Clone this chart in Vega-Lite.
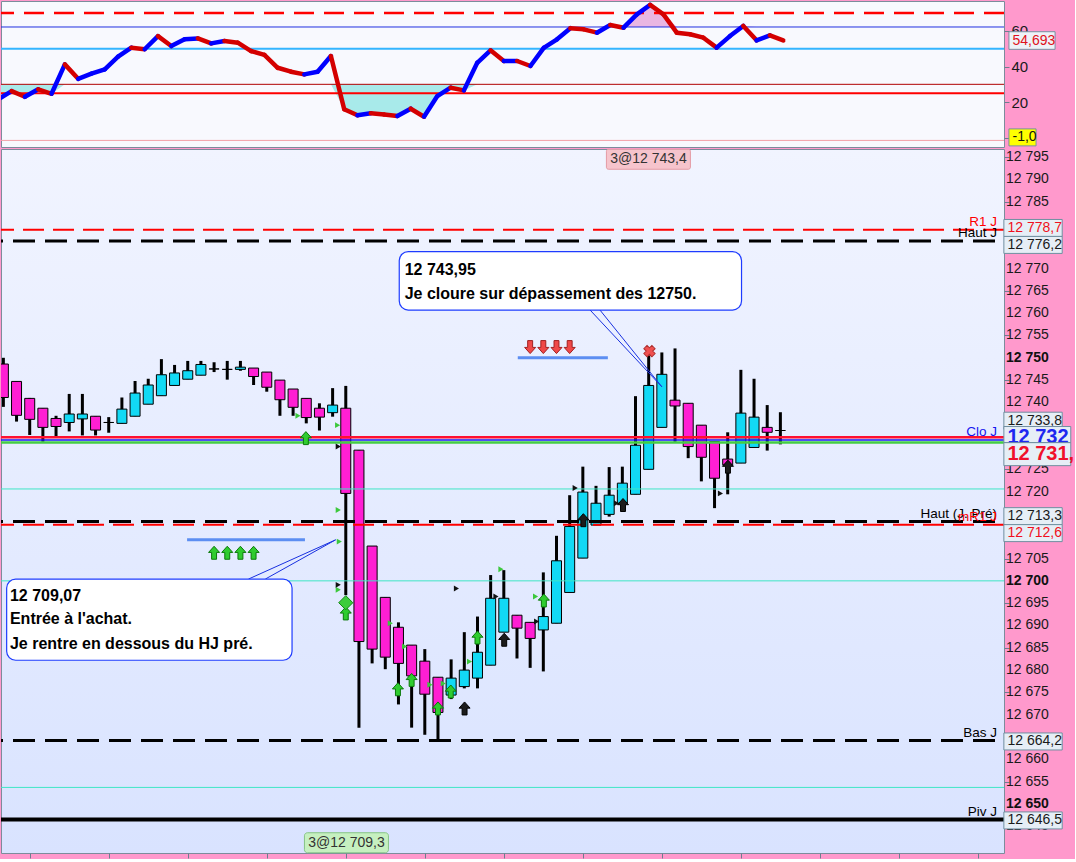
{
  "$schema": "https://vega.github.io/schema/vega-lite/v6.json",
  "background": "#FF99CC",
  "padding": 0,
  "spacing": 0,
  "config": {
    "view": {"stroke": "#7C8C9C", "strokeWidth": 1},
    "font": "Liberation Sans",
    "axis": {"domainColor": "#6E7E8E", "tickColor": "#6E7E8E", "labelColor": "#1A1A1A", "labelFont": "Liberation Sans", "labelFontSize": 14, "grid": false, "title": null, "tickSize": 5, "labelPadding": 2}
  },
  "datasets": {
    "candles": [
      {"i":0,"o":12748.6,"h":12750.0,"l":12739.0,"c":12741.1},
      {"i":1,"o":12744.7,"h":12744.7,"l":12735.7,"c":12737.1},
      {"i":2,"o":12740.9,"h":12741.0,"l":12732.7,"c":12736.2},
      {"i":3,"o":12738.7,"h":12738.7,"l":12731.2,"c":12734.4},
      {"i":4,"o":12736.4,"h":12737.0,"l":12732.3,"c":12734.6},
      {"i":5,"o":12735.5,"h":12741.9,"l":12733.5,"c":12737.4},
      {"i":6,"o":12736.3,"h":12741.9,"l":12732.6,"c":12737.4},
      {"i":7,"o":12736.9,"h":12736.9,"l":12732.6,"c":12733.8},
      {"i":8,"o":12735.5,"h":12736.7,"l":12733.2,"c":12735.5},
      {"i":9,"o":12735.3,"h":12741.1,"l":12735.3,"c":12738.5},
      {"i":10,"o":12736.9,"h":12744.8,"l":12736.9,"c":12742.1},
      {"i":11,"o":12739.6,"h":12745.3,"l":12739.6,"c":12743.9},
      {"i":12,"o":12741.5,"h":12749.7,"l":12741.5,"c":12746.2},
      {"i":13,"o":12743.8,"h":12748.4,"l":12743.8,"c":12746.6},
      {"i":14,"o":12745.2,"h":12749.3,"l":12745.2,"c":12747.1},
      {"i":15,"o":12746.1,"h":12749.3,"l":12746.1,"c":12748.5},
      {"i":16,"o":12747.5,"h":12749.0,"l":12746.8,"c":12747.5},
      {"i":17,"o":12747.4,"h":12749.3,"l":12745.1,"c":12747.4},
      {"i":18,"o":12747.4,"h":12749.3,"l":12747.1,"c":12747.9},
      {"i":19,"o":12747.7,"h":12747.7,"l":12743.9,"c":12745.8},
      {"i":20,"o":12746.8,"h":12746.8,"l":12742.4,"c":12743.4},
      {"i":21,"o":12745.0,"h":12745.0,"l":12737.0,"c":12740.6},
      {"i":22,"o":12743.0,"h":12743.0,"l":12737.0,"c":12738.9},
      {"i":23,"o":12740.9,"h":12740.9,"l":12735.3,"c":12736.6},
      {"i":24,"o":12738.7,"h":12739.8,"l":12733.7,"c":12736.7},
      {"i":25,"o":12737.7,"h":12743.2,"l":12736.8,"c":12739.4},
      {"i":26,"o":12738.7,"h":12743.7,"l":12696.8,"c":12719.6},
      {"i":27,"o":12729.3,"h":12729.3,"l":12667.1,"c":12686.4},
      {"i":28,"o":12707.8,"h":12707.8,"l":12681.5,"c":12684.7},
      {"i":29,"o":12696.3,"h":12696.3,"l":12680.2,"c":12682.9},
      {"i":30,"o":12689.6,"h":12690.7,"l":12672.3,"c":12681.5},
      {"i":31,"o":12685.6,"h":12685.6,"l":12667.1,"c":12678.7},
      {"i":32,"o":12682.0,"h":12684.7,"l":12665.5,"c":12674.6},
      {"i":33,"o":12678.4,"h":12678.4,"l":12664.2,"c":12670.5},
      {"i":34,"o":12674.4,"h":12682.4,"l":12673.5,"c":12678.2},
      {"i":35,"o":12676.3,"h":12688.5,"l":12675.9,"c":12680.0},
      {"i":36,"o":12678.2,"h":12692.0,"l":12675.9,"c":12684.0},
      {"i":37,"o":12681.1,"h":12701.3,"l":12681.1,"c":12696.1},
      {"i":38,"o":12688.5,"h":12702.4,"l":12688.5,"c":12696.1},
      {"i":39,"o":12692.3,"h":12692.3,"l":12682.6,"c":12689.4},
      {"i":40,"o":12690.7,"h":12690.7,"l":12680.5,"c":12687.1},
      {"i":41,"o":12689.0,"h":12701.9,"l":12679.7,"c":12692.0},
      {"i":42,"o":12690.5,"h":12710.1,"l":12690.5,"c":12704.5},
      {"i":43,"o":12697.4,"h":12719.2,"l":12697.4,"c":12712.2},
      {"i":44,"o":12705.1,"h":12725.6,"l":12705.1,"c":12719.9},
      {"i":45,"o":12712.5,"h":12721.3,"l":12712.5,"c":12717.4},
      {"i":46,"o":12714.9,"h":12725.5,"l":12714.4,"c":12719.2},
      {"i":47,"o":12717.4,"h":12725.6,"l":12715.5,"c":12721.9},
      {"i":48,"o":12719.4,"h":12741.4,"l":12719.4,"c":12730.4},
      {"i":49,"o":12725.0,"h":12751.0,"l":12725.0,"c":12743.8},
      {"i":50,"o":12734.4,"h":12751.2,"l":12734.4,"c":12746.3},
      {"i":51,"o":12740.5,"h":12752.1,"l":12731.2,"c":12739.2},
      {"i":52,"o":12739.8,"h":12739.8,"l":12727.5,"c":12730.1},
      {"i":53,"o":12734.9,"h":12734.9,"l":12722.3,"c":12727.7},
      {"i":54,"o":12731.2,"h":12731.2,"l":12716.3,"c":12723.0},
      {"i":55,"o":12727.3,"h":12733.3,"l":12719.4,"c":12726.0},
      {"i":56,"o":12726.4,"h":12747.3,"l":12726.4,"c":12737.6},
      {"i":57,"o":12729.9,"h":12745.3,"l":12729.9,"c":12736.7},
      {"i":58,"o":12734.4,"h":12739.4,"l":12729.2,"c":12733.3},
      {"i":59,"o":12733.7,"h":12737.8,"l":12730.6,"c":12733.7}
    ],
    "osc": [
      {"i":0,"v":21.6},{"i":1,"v":26.2},{"i":2,"v":23.0},{"i":3,"v":27.2},{"i":4,"v":24.7},
      {"i":5,"v":41.2},{"i":6,"v":33.1},{"i":7,"v":36.0},{"i":8,"v":38.4},{"i":9,"v":45.5},
      {"i":10,"v":50.6},{"i":11,"v":49.7},{"i":12,"v":57.1},{"i":13,"v":51.5},{"i":14,"v":55.3},
      {"i":15,"v":55.8},{"i":16,"v":53.0},{"i":17,"v":54.3},{"i":18,"v":53.4},{"i":19,"v":48.7},
      {"i":20,"v":46.5},{"i":21,"v":39.3},{"i":22,"v":37.1},{"i":23,"v":35.6},{"i":24,"v":37.1},
      {"i":25,"v":45.9},{"i":26,"v":16.0},{"i":27,"v":12.6},{"i":28,"v":13.7},{"i":29,"v":13.1},
      {"i":30,"v":12.2},{"i":31,"v":16.3},{"i":32,"v":11.8},{"i":33,"v":23.4},{"i":34,"v":28.1},
      {"i":35,"v":26.6},{"i":36,"v":42.1},{"i":37,"v":49.1},{"i":38,"v":43.1},{"i":39,"v":43.1},
      {"i":40,"v":40.3},{"i":41,"v":50.5},{"i":42,"v":55.3},{"i":43,"v":61.5},{"i":44,"v":60.9},
      {"i":45,"v":59.0},{"i":46,"v":63.3},{"i":47,"v":61.8},{"i":48,"v":69.3},{"i":49,"v":74.6},
      {"i":50,"v":69.3},{"i":51,"v":59.0},{"i":52,"v":58.1},{"i":53,"v":56.2},{"i":54,"v":50.6},
      {"i":55,"v":57.1},{"i":56,"v":62.8},{"i":57,"v":54.7},{"i":58,"v":57.5},{"i":59,"v":54.7}
    ],
    "levels": [
      {"name":"R1 J","p":12778.7},
      {"name":"Haut J","p":12776.2},
      {"name":"Clo J","p":12731.6},
      {"name":"Haut (J. Pré)","p":12713.3},
      {"name":"mR1 J","p":12712.6},
      {"name":"Bas J","p":12664.2},
      {"name":"Piv J","p":12646.5},
      {"name":"Dernier","p":12732.2},
      {"name":"Moyenne","p":12731.0},
      {"name":"Seuil","p":12720.6},
      {"name":"Seuil","p":12700.0},
      {"name":"Seuil","p":12653.7}
    ],
    "yticks": [
      {"p":12645,"t":"12 645"},{"p":12650,"t":"12 650"},{"p":12655,"t":"12 655"},{"p":12660,"t":"12 660"},
      {"p":12670,"t":"12 670"},{"p":12675,"t":"12 675"},{"p":12680,"t":"12 680"},
      {"p":12685,"t":"12 685"},{"p":12690,"t":"12 690"},{"p":12695,"t":"12 695"},{"p":12700,"t":"12 700"},
      {"p":12705,"t":"12 705"},{"p":12720,"t":"12 720"},
      {"p":12725,"t":"12 725"},{"p":12740,"t":"12 740"},
      {"p":12745,"t":"12 745"},{"p":12750,"t":"12 750"},{"p":12755,"t":"12 755"},{"p":12760,"t":"12 760"},
      {"p":12765,"t":"12 765"},{"p":12770,"t":"12 770"},
      {"p":12785,"t":"12 785"},{"p":12790,"t":"12 790"},{"p":12795,"t":"12 795"}
    ]
  },
  "vconcat": [
    {
      "width": 1003,
      "height": 146,
      "view": {"fill": "#F8F9FE", "stroke": "#7C8C9C"},
      "resolve": {"scale": {"y": "independent"}},
      "layer": [
        {
          "data": {"name": "osc"},
          "mark": {"type": "area", "color": "#A8EAEA", "clip": true},
          "encoding": {
            "x": {"field": "i", "type": "quantitative", "scale": {"domain": [0.2, 75.6], "nice": false, "zero": false}, "axis": null},
            "y": {"field": "v", "type": "quantitative", "scale": {"domain": [-5.2, 30], "range": [146, 83.33], "clamp": true, "nice": false, "zero": false}, "axis": null},
            "y2": {"datum": 30}
          }
        },
        {
          "data": {"name": "osc"},
          "mark": {"type": "area", "color": "#E9B6E2", "clip": true},
          "encoding": {
            "x": {"field": "i", "type": "quantitative", "scale": {"domain": [0.2, 75.6], "nice": false, "zero": false}, "axis": null},
            "y": {"field": "v", "type": "quantitative", "scale": {"domain": [62.2, 76.8], "range": [26.0, 0], "clamp": true, "nice": false, "zero": false}, "axis": null},
            "y2": {"datum": 62.2}
          }
        },
        {
          "layer": [
            {
              "data": {"values": [{}]},
              "mark": {"type": "rule", "color": "#FF0000", "strokeWidth": 2.5, "strokeDash": [20, 10], "clip": true},
              "encoding": {"y": {"datum": 70, "type": "quantitative", "scale": {"domain": [-5.2, 76.8], "nice": false, "zero": false},
                "axis": {"orient": "right", "values": [0, 10, 20, 30, 40, 50, 60, 70], "labelExpr": "datum.value == 20 || datum.value == 40 || datum.value == 60 ? datum.label : ''", "labelFontSize": 15, "domain": false}}}
            },
            {"data": {"values": [{}]}, "mark": {"type": "rule", "color": "#2030E0", "strokeWidth": 1, "clip": true}, "encoding": {"y": {"datum": 62.2, "type": "quantitative"}}},
            {"data": {"values": [{}]}, "mark": {"type": "rule", "color": "#33B5FF", "strokeWidth": 2, "clip": true}, "encoding": {"y": {"datum": 50, "type": "quantitative"}}},
            {"data": {"values": [{}]}, "mark": {"type": "rule", "color": "#B00000", "strokeWidth": 1, "clip": true}, "encoding": {"y": {"datum": 30, "type": "quantitative"}}},
            {"data": {"values": [{}]}, "mark": {"type": "rule", "color": "#FF0000", "strokeWidth": 2, "clip": true}, "encoding": {"y": {"datum": 25, "type": "quantitative"}}},
            {"data": {"values": [{}]}, "mark": {"type": "rule", "color": "#F2A0A8", "strokeWidth": 1, "clip": true}, "encoding": {"y": {"datum": -1.5, "type": "quantitative"}}},
            {
              "data": {"name": "osc"},
              "transform": [
                {"window": [{"op": "lead", "field": "v", "as": "v2"}, {"op": "lead", "field": "i", "as": "i2"}], "sort": [{"field": "i", "order": "ascending"}]},
                {"filter": "datum.v2 != null"}
              ],
              "mark": {"type": "rule", "strokeWidth": 4.5, "strokeCap": "round", "clip": true},
              "encoding": {
                "x": {"field": "i", "type": "quantitative", "scale": {"domain": [0.2, 75.6], "nice": false, "zero": false}, "axis": null},
                "x2": {"field": "i2"},
                "y": {"field": "v", "type": "quantitative"},
                "y2": {"field": "v2"},
                "color": {"condition": {"test": "datum.v2 >= datum.v", "value": "#0000FF"}, "value": "#D40000"}
              }
            },
            {
              "data": {"values": [{"t": "54,693", "v": 54.6}]},
              "layer": [
                {
                  "mark": {"type": "rect", "fill": "#EEF2F8", "stroke": "#7890A0", "strokeWidth": 1, "yOffset": -8.8, "y2Offset": 8.8},
                  "encoding": {
                    "x": {"datum": 75.97, "type": "quantitative", "axis": null},
                    "x2": {"datum": 79.44},
                    "y": {"field": "v", "type": "quantitative"},
                    "y2": {"field": "v"}
                  }
                },
                {
                  "mark": {"type": "text", "fontSize": 14, "color": "#E01020", "align": "left", "baseline": "middle"},
                  "encoding": {
                    "x": {"datum": 76.24, "type": "quantitative", "axis": null},
                    "y": {"field": "v", "type": "quantitative"},
                    "text": {"field": "t"}
                  }
                }
              ]
            },
            {
              "data": {"values": [{"t": "-1,0", "v": 0.2}]},
              "layer": [
                {
                  "mark": {"type": "rect", "fill": "#FFFF00", "stroke": "#7890A0", "strokeWidth": 1, "yOffset": -8.5, "y2Offset": 8.5},
                  "encoding": {
                    "x": {"datum": 75.97, "type": "quantitative", "axis": null},
                    "x2": {"datum": 78.01},
                    "y": {"field": "v", "type": "quantitative"},
                    "y2": {"field": "v"}
                  }
                },
                {
                  "mark": {"type": "text", "fontSize": 14, "color": "#111111", "align": "left", "baseline": "middle"},
                  "encoding": {
                    "x": {"datum": 76.24, "type": "quantitative", "axis": null},
                    "y": {"field": "v", "type": "quantitative"},
                    "text": {"field": "t"}
                  }
                }
              ]
            }
          ]
        }
      ]
    },
    {
      "width": 1003,
      "height": 704,
      "view": {"fill": {"gradient": "linear", "x1": 0, "y1": 0, "x2": 0, "y2": 1, "stops": [{"offset": 0, "color": "#F1F4FF"}, {"offset": 1, "color": "#D9E3FF"}]}, "stroke": "#7C8C9C"},
      "layer": [
        {
          "data": {"name": "candles"},
          "mark": {"type": "rule", "color": "#000000", "strokeWidth": 3, "clip": true},
          "encoding": {
            "x": {"field": "i", "type": "quantitative", "scale": {"domain": [0.2, 75.6], "nice": false, "zero": false},
              "axis": {"values": [2, 8, 14, 20, 26, 32, 38, 44, 50, 56, 62, 68, 74], "labels": false, "tickSize": 5, "domain": false}},
            "y": {"field": "l", "type": "quantitative", "scale": {"domain": [12639.0, 12796.8], "nice": false, "zero": false},
              "axis": {"orient": "right", "values": [12645,12650,12655,12660,12665,12670,12675,12680,12685,12690,12695,12700,12705,12710,12715,12720,12725,12730,12735,12740,12745,12750,12755,12760,12765,12770,12775,12780,12785,12790,12795],
                "labels": false, "tickSize": 5, "domain": false}},
            "y2": {"field": "h"}
          }
        },
        {
          "data": {"name": "candles"},
          "mark": {"type": "bar", "width": 10, "orient": "vertical", "stroke": "#000000", "strokeWidth": 1, "clip": true},
          "encoding": {
            "x": {"field": "i", "type": "quantitative"},
            "y": {"field": "o", "type": "quantitative"},
            "y2": {"field": "c"},
            "color": {"condition": {"test": "datum.c >= datum.o", "value": "#12D9F5"}, "value": "#FF1FD3"}
          }
        },
        {
          "data": {"name": "yticks"},
          "transform": [{"filter": "datum.p % 50 != 0"}],
          "mark": {"type": "text", "fontSize": 14, "align": "left", "baseline": "middle", "dx": 7, "color": "#1A1A1A"},
          "encoding": {"x": {"datum": 75.6, "type": "quantitative"}, "y": {"field": "p", "type": "quantitative"}, "text": {"field": "t"}}
        },
        {
          "data": {"name": "yticks"},
          "transform": [{"filter": "datum.p % 50 == 0"}],
          "mark": {"type": "text", "fontSize": 14, "fontWeight": "bold", "align": "left", "baseline": "middle", "dx": 7, "color": "#111111"},
          "encoding": {"x": {"datum": 75.6, "type": "quantitative"}, "y": {"field": "p", "type": "quantitative"}, "text": {"field": "t"}}
        },
        {
          "data": {"name": "levels"},
          "transform": [{"filter": "datum.name == 'Seuil'"}],
          "mark": {"type": "rule", "color": "#3FE6C6", "strokeWidth": 1, "clip": true},
          "encoding": {"y": {"field": "p", "type": "quantitative"}}
        },
        {
          "data": {"name": "levels"},
          "transform": [{"filter": "datum.name == 'R1 J' || datum.name == 'mR1 J'"}],
          "mark": {"type": "rule", "color": "#FF0000", "strokeWidth": 2, "strokeDash": [21, 9], "clip": true},
          "encoding": {"y": {"field": "p", "type": "quantitative"}}
        },
        {
          "data": {"name": "levels"},
          "transform": [{"filter": "datum.name == 'Haut J' || datum.name == 'Haut (J. Pré)' || datum.name == 'Bas J'"}],
          "mark": {"type": "rule", "color": "#000000", "strokeWidth": 3, "strokeDash": [22, 10], "strokeDashOffset": -9, "clip": true},
          "encoding": {"y": {"field": "p", "type": "quantitative"}}
        },
        {
          "data": {"name": "levels"},
          "transform": [{"filter": "datum.name == 'Piv J'"}],
          "mark": {"type": "rule", "color": "#000000", "strokeWidth": 4, "clip": true},
          "encoding": {"y": {"field": "p", "type": "quantitative"}}
        },
        {
          "data": {"name": "levels"},
          "transform": [{"filter": "datum.name == 'Dernier'"}],
          "mark": {"type": "rule", "color": "#FF1030", "strokeWidth": 2.5, "clip": true},
          "encoding": {"y": {"field": "p", "type": "quantitative"}}
        },
        {
          "data": {"name": "levels"},
          "transform": [{"filter": "datum.name == 'Clo J'"}],
          "mark": {"type": "rule", "color": "#1818F0", "strokeWidth": 1.5, "clip": true},
          "encoding": {"y": {"field": "p", "type": "quantitative"}}
        },
        {
          "data": {"name": "levels"},
          "transform": [{"filter": "datum.name == 'Moyenne'"}],
          "mark": {"type": "rule", "color": "#44CC44", "strokeWidth": 2.5, "clip": true},
          "encoding": {"y": {"field": "p", "type": "quantitative"}}
        },
        {
          "data": {"values": [{"i1": 39.06, "i2": 45.9, "p": 12750.0}, {"i1": 13.95, "i2": 22.9, "p": 12709.2}]},
          "mark": {"type": "rule", "color": "#5C8EF2", "strokeWidth": 3},
          "encoding": {"x": {"field": "i1", "type": "quantitative"}, "x2": {"field": "i2"}, "y": {"field": "p", "type": "quantitative"}}
        },
        {
          "data": {"values": [
            {"i": 22.37, "p": 12737.0}, {"i": 25.38, "p": 12734.9}, {"i": 25.43, "p": 12715.9}, {"i": 25.51, "p": 12708.8},
            {"i": 25.43, "p": 12698.0}, {"i": 29.38, "p": 12690.5}, {"i": 30.47, "p": 12685.3}, {"i": 32.39, "p": 12676.7},
            {"i": 33.4, "p": 12677.0}, {"i": 35.4, "p": 12681.9}, {"i": 40.41, "p": 12696.5}, {"i": 37.78, "p": 12702.6}
          ]},
          "mark": {"type": "point", "shape": "triangle-right", "size": 35, "filled": true, "color": "#3CC83C", "opacity": 1},
          "encoding": {"x": {"field": "i", "type": "quantitative"}, "y": {"field": "p", "type": "quantitative"}}
        },
        {
          "data": {"values": [
            {"i": 25.43, "p": 12730.1}, {"i": 25.43, "p": 12699.1}, {"i": 34.4, "p": 12698.3}, {"i": 37.4, "p": 12696.5},
            {"i": 40.49, "p": 12690.9}, {"i": 43.42, "p": 12720.8}, {"i": 46.55, "p": 12717.4}, {"i": 54.45, "p": 12719.6}
          ]},
          "mark": {"type": "point", "shape": "triangle-right", "size": 35, "filled": true, "color": "#111111", "opacity": 1},
          "encoding": {"x": {"field": "i", "type": "quantitative"}, "y": {"field": "p", "type": "quantitative"}}
        },
        {
          "data": {"values": [
            {"i": 16, "p": 12706.3}, {"i": 17, "p": 12706.3}, {"i": 18, "p": 12706.3}, {"i": 19, "p": 12706.3},
            {"i": 22.97, "p": 12732.0}, {"i": 26.0, "p": 12692.7}, {"i": 29.96, "p": 12675.7}, {"i": 31.0, "p": 12677.8},
            {"i": 33.0, "p": 12671.4}, {"i": 33.97, "p": 12675.2}, {"i": 36.0, "p": 12687.3}, {"i": 41.04, "p": 12695.6}
          ]},
          "mark": {"type": "point", "shape": "M0,-1 L0.85,-0.05 L0.38,-0.05 L0.38,1 L-0.38,1 L-0.38,-0.05 L-0.85,-0.05 Z", "size": 169, "filled": true, "fill": "#2FCC2F", "stroke": "#0B780B", "strokeWidth": 1, "opacity": 1},
          "encoding": {"x": {"field": "i", "type": "quantitative"}, "y": {"field": "p", "type": "quantitative"}}
        },
        {
          "data": {"values": [
            {"i": 35.02, "p": 12671.4}, {"i": 38.03, "p": 12686.8}, {"i": 44.04, "p": 12713.6}, {"i": 47.05, "p": 12717.0}, {"i": 55.02, "p": 12725.6}
          ]},
          "mark": {"type": "point", "shape": "M0,-1 L0.85,-0.05 L0.38,-0.05 L0.38,1 L-0.38,1 L-0.38,-0.05 L-0.85,-0.05 Z", "size": 169, "filled": true, "fill": "#1C1C1C", "stroke": "#000000", "strokeWidth": 1, "opacity": 1},
          "encoding": {"x": {"field": "i", "type": "quantitative"}, "y": {"field": "p", "type": "quantitative"}}
        },
        {
          "data": {"values": [{"i": 40, "p": 12752.4}, {"i": 41, "p": 12752.4}, {"i": 42, "p": 12752.4}, {"i": 43, "p": 12752.4}]},
          "mark": {"type": "point", "shape": "M0,1 L0.85,0.05 L0.38,0.05 L0.38,-1 L-0.38,-1 L-0.38,0.05 L-0.85,0.05 Z", "size": 169, "filled": true, "fill": "#F04848", "stroke": "#A02020", "strokeWidth": 1, "opacity": 1},
          "encoding": {"x": {"field": "i", "type": "quantitative"}, "y": {"field": "p", "type": "quantitative"}}
        },
        {
          "data": {"values": [{"i": 26.0, "p": 12695.1}]},
          "mark": {"type": "point", "shape": "diamond", "size": 200, "filled": true, "fill": "#3CCC3C", "stroke": "#118811", "strokeWidth": 1, "opacity": 1},
          "encoding": {"x": {"field": "i", "type": "quantitative"}, "y": {"field": "p", "type": "quantitative"}}
        },
        {
          "data": {"values": [{"i": 49.06, "p": 12751.5}]},
          "mark": {"type": "point", "shape": "cross", "angle": 45, "size": 130, "filled": true, "fill": "#F05050", "stroke": "#B03030", "strokeWidth": 1, "opacity": 1},
          "encoding": {"x": {"field": "i", "type": "quantitative"}, "y": {"field": "p", "type": "quantitative"}}
        },
        {
          "data": {"values": [{"i1": 44.55, "p1": 12760.7, "i2": 50.0, "p2": 12743.5}, {"i1": 45.3, "p1": 12760.7, "i2": 50.0, "p2": 12743.5}, {"i1": 18.61, "p1": 12700.4, "i2": 25.23, "p2": 12709.2}, {"i1": 19.89, "p1": 12700.4, "i2": 25.23, "p2": 12709.2}]},
          "mark": {"type": "rule", "color": "#1830E0", "strokeWidth": 1},
          "encoding": {"x": {"field": "i1", "type": "quantitative"}, "x2": {"field": "i2"}, "y": {"field": "p1", "type": "quantitative"}, "y2": {"field": "p2"}}
        },
        {
          "data": {"values": [{"i1": 30.06, "i2": 56.05, "p1": 12773.8, "p2": 12760.7}, {"i1": 0.25, "i2": 21.92, "p1": 12700.4, "p2": 12682.2}]},
          "mark": {"type": "rect", "fill": "#FFFFFF", "stroke": "#1E3CFF", "strokeWidth": 1.2, "cornerRadius": 9},
          "encoding": {"x": {"field": "i1", "type": "quantitative"}, "x2": {"field": "i2"}, "y": {"field": "p1", "type": "quantitative"}, "y2": {"field": "p2"}}
        },
        {
          "data": {"values": [
            {"t": "12 743,95", "i": 30.47, "p": 12769.7},
            {"t": "Je cloure sur dépassement des 12750.", "i": 30.47, "p": 12764.2},
            {"t": "12 709,07", "i": 0.5, "p": 12696.6},
            {"t": "Entrée à l'achat.", "i": 0.5, "p": 12691.4},
            {"t": "Je rentre en dessous du HJ pré.", "i": 0.5, "p": 12685.8}
          ]},
          "mark": {"type": "text", "fontSize": 16, "fontWeight": "bold", "align": "left", "baseline": "middle", "color": "#000000"},
          "encoding": {"x": {"field": "i", "type": "quantitative"}, "y": {"field": "p", "type": "quantitative"}, "text": {"field": "t"}}
        },
        {
          "data": {"name": "levels"},
          "transform": [{"filter": "datum.name == 'Haut J' || datum.name == 'Haut (J. Pré)' || datum.name == 'Bas J' || datum.name == 'Piv J'"}],
          "mark": {"type": "text", "fontSize": 13.5, "align": "right", "baseline": "middle", "dy": -8, "dx": -2, "color": "#000000"},
          "encoding": {"x": {"datum": 75.6, "type": "quantitative"}, "y": {"field": "p", "type": "quantitative"}, "text": {"field": "name"}}
        },
        {
          "data": {"name": "levels"},
          "transform": [{"filter": "datum.name == 'R1 J' || datum.name == 'mR1 J'"}],
          "mark": {"type": "text", "fontSize": 13.5, "align": "right", "baseline": "middle", "dy": -8, "dx": -2, "color": "#FF0000"},
          "encoding": {"x": {"datum": 75.6, "type": "quantitative"}, "y": {"field": "p", "type": "quantitative"}, "text": {"field": "name"}}
        },
        {
          "data": {"name": "levels"},
          "transform": [{"filter": "datum.name == 'Clo J'"}],
          "mark": {"type": "text", "fontSize": 13.5, "align": "right", "baseline": "middle", "dy": -8, "dx": -2, "color": "#1515F0"},
          "encoding": {"x": {"datum": 75.6, "type": "quantitative"}, "y": {"field": "p", "type": "quantitative"}, "text": {"field": "name"}}
        },
        {
          "data": {"values": [
            {"t": "12 778,7", "p": 12779.1, "k": "r"},
            {"t": "12 776,2", "p": 12775.3, "k": "n"},
            {"t": "12 733,8", "p": 12735.9, "k": "n"},
            {"t": "12 713,3", "p": 12714.5, "k": "n"},
            {"t": "12 712,6", "p": 12710.7, "k": "r"},
            {"t": "12 664,2", "p": 12664.0, "k": "n"},
            {"t": "12 646,5", "p": 12646.3, "k": "n"}
          ]},
          "layer": [
            {
              "mark": {"type": "rect", "fill": "#E6EEF6", "stroke": "#6F8FA0", "strokeWidth": 1, "yOffset": -8.5, "y2Offset": 8.5},
              "encoding": {"x": {"datum": 75.97, "type": "quantitative"}, "x2": {"datum": 80.4}, "y": {"field": "p", "type": "quantitative"}, "y2": {"field": "p"}}
            },
            {
              "mark": {"type": "text", "fontSize": 14, "align": "left", "baseline": "middle"},
              "encoding": {"x": {"datum": 76.24, "type": "quantitative"}, "y": {"field": "p", "type": "quantitative"}, "text": {"field": "t"},
                "color": {"condition": {"test": "datum.k == 'r'", "value": "#F01020"}, "value": "#1A1A1A"}}
            }
          ]
        },
        {
          "data": {"values": [{"t": "12 732", "p": 12732.8}]},
          "layer": [
            {
              "mark": {"type": "rect", "fill": "#E6EEF6", "stroke": "#6F8FA0", "strokeWidth": 1, "yOffset": -8, "y2Offset": 8},
              "encoding": {"x": {"datum": 75.97, "type": "quantitative"}, "x2": {"datum": 81.05}, "y": {"field": "p", "type": "quantitative"}, "y2": {"field": "p"}}
            },
            {
              "mark": {"type": "text", "fontSize": 20, "fontWeight": "bold", "align": "left", "baseline": "middle", "color": "#1E28F0", "dy": 2},
              "encoding": {"x": {"datum": 76.24, "type": "quantitative"}, "y": {"field": "p", "type": "quantitative"}, "text": {"field": "t"}}
            }
          ]
        },
        {
          "data": {"values": [{"t": "12 731,", "p": 12728.4}]},
          "layer": [
            {
              "mark": {"type": "rect", "fill": "#E6EEF6", "stroke": "#6F8FA0", "strokeWidth": 1, "yOffset": -11.5, "y2Offset": 11.5},
              "encoding": {"x": {"datum": 75.97, "type": "quantitative"}, "x2": {"datum": 81.05}, "y": {"field": "p", "type": "quantitative"}, "y2": {"field": "p"}}
            },
            {
              "mark": {"type": "text", "fontSize": 20, "fontWeight": "bold", "align": "left", "baseline": "middle", "color": "#F0102C"},
              "encoding": {"x": {"datum": 76.24, "type": "quantitative"}, "y": {"field": "p", "type": "quantitative"}, "text": {"field": "t"}}
            }
          ]
        },
        {
          "data": {"values": [{"t": "3@12 743,4", "i": 48.98, "p": 12794.5}]},
          "layer": [
            {
              "mark": {"type": "rect", "fill": "#F6C4CC", "stroke": "#E49AA4", "strokeWidth": 1, "cornerRadius": 2, "xOffset": -42, "x2Offset": 42, "yOffset": -10, "y2Offset": 10},
              "encoding": {"x": {"field": "i", "type": "quantitative"}, "x2": {"field": "i"}, "y": {"field": "p", "type": "quantitative"}, "y2": {"field": "p"}}
            },
            {
              "mark": {"type": "text", "fontSize": 14, "align": "center", "baseline": "middle", "color": "#333333"},
              "encoding": {"x": {"field": "i", "type": "quantitative"}, "y": {"field": "p", "type": "quantitative"}, "text": {"field": "t"}}
            }
          ]
        },
        {
          "data": {"values": [{"t": "3@12 709,3", "i": 26.05, "p": 12641.3}]},
          "layer": [
            {
              "mark": {"type": "rect", "fill": "#C6F0C0", "stroke": "#86C486", "strokeWidth": 1, "cornerRadius": 3, "xOffset": -42, "x2Offset": 42, "yOffset": -10, "y2Offset": 10},
              "encoding": {"x": {"field": "i", "type": "quantitative"}, "x2": {"field": "i"}, "y": {"field": "p", "type": "quantitative"}, "y2": {"field": "p"}}
            },
            {
              "mark": {"type": "text", "fontSize": 14, "align": "center", "baseline": "middle", "color": "#333333"},
              "encoding": {"x": {"field": "i", "type": "quantitative"}, "y": {"field": "p", "type": "quantitative"}, "text": {"field": "t"}}
            }
          ]
        }
      ]
    }
  ]
}
